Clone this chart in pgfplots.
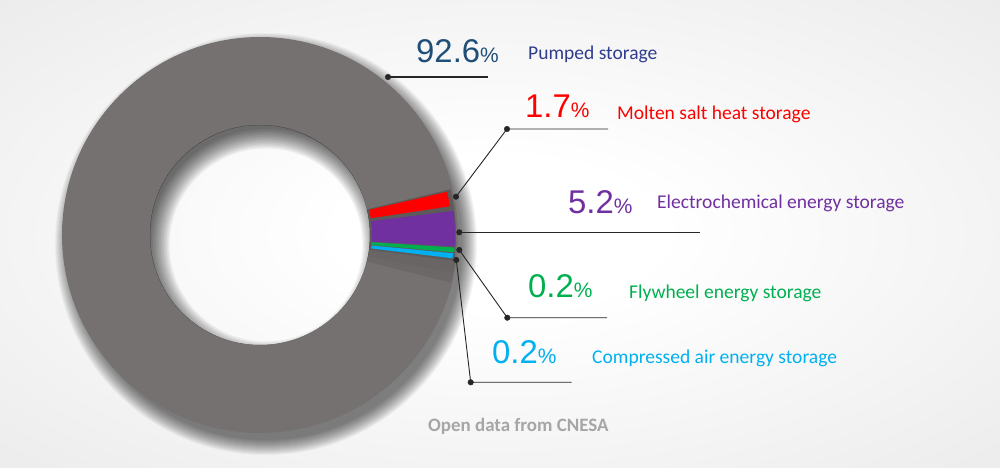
\documentclass[border=0pt]{standalone}
\usepackage{pgfplots}
\pgfplotsset{compat=1.18}
\usepackage{fontspec}
\setmainfont{Carlito}
\newfontfamily\arial{Liberation Sans}

\definecolor{bgc}{HTML}{E2E2E2}
\definecolor{ring}{HTML}{767171}
\definecolor{ringdark}{HTML}{5E5A5A}
\definecolor{cpump}{HTML}{1F4E79}
\definecolor{cpumptxt}{HTML}{2F3D8C}
\definecolor{cred}{HTML}{FF0000}
\definecolor{cpurple}{HTML}{7030A0}
\definecolor{cgreen}{HTML}{00B050}
\definecolor{cblue}{HTML}{00B0F0}
\definecolor{cnote}{HTML}{A6A6A6}
\definecolor{lead}{HTML}{262626}

\pgfdeclareradialshading{bgshade}{\pgfpoint{0bp}{0bp}}{%
  color(0bp)=(white); color(8bp)=(white); color(50bp)=(bgc)}

% one slice of the ring: colour, start angle, end angle, inner r, outer r
\newcommand\ringslice[5]{%
  \fill[#1] ([shift={(#2:#4bp)}]axis cs:260,233)
    arc[start angle=#2, end angle=#3, radius=#4bp]
    -- ([shift={(#3:#5bp)}]axis cs:260,233)
    arc[start angle=#3, end angle=#2, radius=#5bp] -- cycle;}

\newcommand\pct[2]{{\arial\fontsize{#1}{#1}\selectfont #2{\fontsize{21}{21}\selectfont\%}}}
\newcommand\lbl{\fontsize{19.6}{19.6}\selectfont}

\begin{document}
\begin{tikzpicture}
% background and soft shadow under the ring (not inside the hole)
\shade[shading=bgshade] (0,0) rectangle (1000bp,468bp);
\foreach \k in {1,...,16}
  \fill[black, opacity=0.04, even odd rule] (266bp,224bp) circle[radius={(195+\k)*1bp}]
    (260bp,233bp) circle[radius=110bp];

\begin{axis}[
    hide axis,
    x=1bp, y=1bp,
    xmin=0, xmax=1000,
    ymin=0, ymax=468,
    clip=false
  ]
  % the ring (92.6 % pumped storage fills the rest)
  \fill[ring, even odd rule] (axis cs:260,233) circle[radius=198bp]
                             (axis cs:260,233) circle[radius=110bp];
  \ringslice{ringdark}{-7.6}{13.5}{110}{196}
  \ringslice{black, opacity=0.10}{-11}{-7.6}{110}{197}
  \ringslice{black, opacity=0.08}{-14}{-11}{110}{197}
  \ringslice{cred}{8.6}{13.0}{112}{192}
  \ringslice{cpurple}{-3.4}{7.1}{112}{195}
  \ringslice{cgreen}{-5.1}{-3.7}{112}{195}
  \ringslice{cblue}{-6.9}{-5.4}{112}{194}

  % leader lines
  \addplot[lead, line width=1.2pt] coordinates {(388,391) (488,391)};
  \addplot[lead, line width=0.9pt] coordinates {(456,271.3) (507,339) (608,339)};
  \addplot[lead, line width=0.9pt] coordinates {(459.3,235.7) (700,235.7)};
  \addplot[lead, line width=0.9pt] coordinates {(459.3,218) (507.3,150.3) (607,150.3)};
  \addplot[lead, line width=0.9pt] coordinates {(456.3,208) (470.7,85.7) (571.7,85.7)};
  \addplot[lead, only marks, mark=*, mark size=2.8pt] coordinates {
    (388,391) (456,271.3) (507,339) (459.3,235.7)
    (459.3,218) (507.3,150.3) (456.3,208) (470.7,85.7)};

  % labels
  \node[anchor=base west, inner sep=0, text=cpump] at (axis cs:416,405) {\pct{33}{92.6}};
  \node[anchor=base west, inner sep=0, text=cpumptxt, font=\lbl] at (axis cs:528,408) {Pumped storage};
  \node[anchor=base west, inner sep=0, text=cred] at (axis cs:525,350) {\pct{33}{1.7}};
  \node[anchor=base west, inner sep=0, text=cred, font=\lbl] at (axis cs:617,348) {Molten salt heat storage};
  \node[anchor=base west, inner sep=0, text=cpurple] at (axis cs:568,254) {\pct{33}{5.2}};
  \node[anchor=base west, inner sep=0, text=cpurple, font=\lbl] at (axis cs:657,259) {Electrochemical energy storage};
  \node[anchor=base west, inner sep=0, text=cgreen] at (axis cs:528,170) {\pct{33}{0.2}};
  \node[anchor=base west, inner sep=0, text=cgreen, font=\lbl] at (axis cs:629,169) {Flywheel energy storage};
  \node[anchor=base west, inner sep=0, text=cblue] at (axis cs:492,104) {\pct{33}{0.2}};
  \node[anchor=base west, inner sep=0, text=cblue, font=\lbl] at (axis cs:592,104) {Compressed air energy storage};
  \node[anchor=base west, inner sep=0, text=cnote, font=\bfseries\fontsize{19}{19}\selectfont] at (axis cs:428,36) {Open data from CNESA};
\end{axis}

% shadow inside the hole, strongest at its upper left edge
\begin{scope}
  \clip (260bp,233bp) circle[radius=110bp];
  \foreach \k in {0,...,13}
    \fill[black, opacity=0.055, even odd rule] (260bp,233bp) circle[radius=120bp]
      (266bp,223bp) circle[radius={(116-1.5*\k)*1bp}];
\end{scope}
\end{tikzpicture}
\end{document}
